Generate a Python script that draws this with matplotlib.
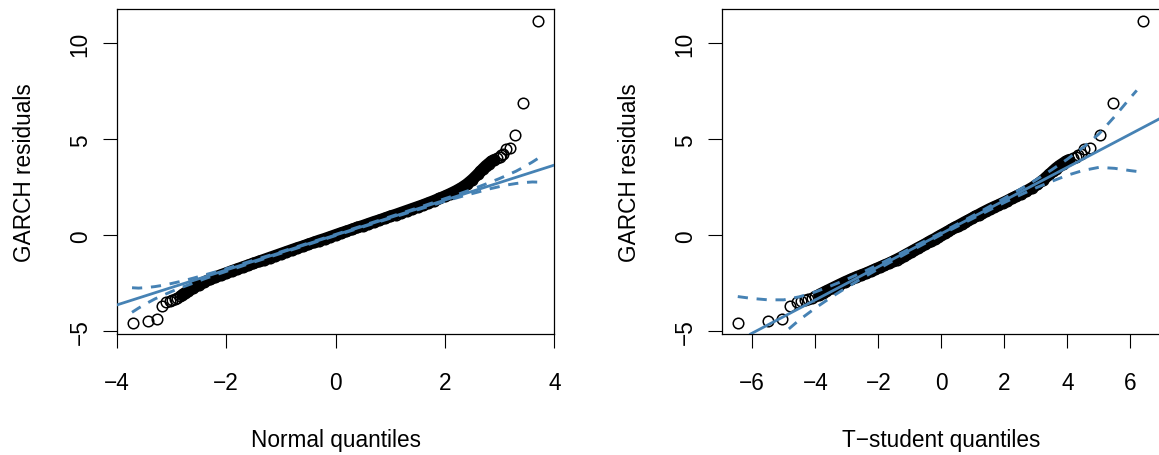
import numpy as np
import matplotlib
matplotlib.use("Agg")
import matplotlib.pyplot as plt

plt.rcParams['font.family'] = ['Liberation Sans', 'DejaVu Sans']

# sorted GARCH residuals with their normal and t-student theoretical quantiles
q_norm = [-3.71, -3.42, -3.27, -3.18, -3.09, -3.03, -2.98, -2.94, -2.90, -2.85,
          -2.80, -2.75, -2.70, -2.60, -2.50, -2.40, -2.30, -2.20, -2.10, -2.00,
          -1.90, -1.80, -1.70, -1.60, -1.50, -1.40, -1.30, -1.20, -1.10, -1.00,
          -0.90, -0.80, -0.70, -0.60, -0.50, -0.40, -0.30, -0.20, -0.10, 0.00,
          0.10, 0.20, 0.30, 0.40, 0.50, 0.60, 0.70, 0.80, 0.90, 1.00,
          1.10, 1.20, 1.30, 1.40, 1.50, 1.60, 1.70, 1.80, 1.90, 2.00,
          2.10, 2.20, 2.30, 2.40, 2.50, 2.60, 2.65, 2.70, 2.75, 2.80,
          2.85, 2.90, 2.95, 3.00, 3.03, 3.06, 3.11, 3.19, 3.28, 3.42, 3.71]
q_t = [-6.46, -5.49, -5.07, -4.80, -4.59, -4.45, -4.33, -4.22, -4.12, -4.00,
       -3.88, -3.77, -3.66, -3.45, -3.25, -3.06, -2.88, -2.71, -2.54, -2.38,
       -2.23, -2.09, -1.95, -1.81, -1.67, -1.54, -1.42, -1.30, -1.19, -1.08,
       -0.97, -0.86, -0.75, -0.64, -0.53, -0.42, -0.32, -0.21, -0.11, 0.00,
       0.11, 0.21, 0.32, 0.42, 0.53, 0.64, 0.75, 0.86, 0.97, 1.08,
       1.19, 1.30, 1.42, 1.54, 1.67, 1.81, 1.95, 2.09, 2.23, 2.38,
       2.54, 2.70, 2.87, 3.05, 3.24, 3.43, 3.53, 3.63, 3.74, 3.85,
       3.95, 4.06, 4.17, 4.28, 4.35, 4.42, 4.53, 4.73, 5.02, 5.44, 6.40]
resid = [-4.56, -4.44, -4.36, -3.69, -3.49, -3.42, -3.37, -3.32, -3.26, -3.18,
         -3.09, -3.00, -2.91, -2.74, -2.58, -2.43, -2.30, -2.18, -2.07, -1.97,
         -1.86, -1.76, -1.66, -1.56, -1.46, -1.36, -1.26, -1.16, -1.06, -0.96,
         -0.86, -0.76, -0.66, -0.57, -0.47, -0.37, -0.27, -0.18, -0.08, 0.02,
         0.12, 0.21, 0.31, 0.41, 0.50, 0.60, 0.70, 0.79, 0.89, 0.99,
         1.08, 1.18, 1.28, 1.38, 1.48, 1.58, 1.69, 1.80, 1.92, 2.04,
         2.17, 2.31, 2.47, 2.66, 2.90, 3.18, 3.33, 3.48, 3.62, 3.74,
         3.85, 3.94, 4.02, 4.10, 4.16, 4.22, 4.50, 4.57, 5.23, 6.88, 11.18]

# reference lines (intercept, slope)
norm_line = (0.015, 0.911)
t_line = (0.09, 0.864)

# confidence envelopes
env_norm_x = [-3.72, -3.6, -3.45, -3.3, -3.15, -3.0, -2.8, -2.6, -2.4, -2.2, -2.0,
              -1.5, -1.0, 0.0, 1.0, 1.5, 2.0, 2.2, 2.4, 2.6, 2.8, 3.0, 3.15,
              3.3, 3.45, 3.6, 3.72]
env_norm_up = [-2.73, -2.75, -2.72, -2.67, -2.60, -2.51, -2.38, -2.23, -2.07, -1.91, -1.74,
               -1.30, -0.86, 0.045, 0.97, 1.43, 1.91, 2.10, 2.30, 2.51, 2.73, 2.96, 3.15,
               3.34, 3.57, 3.82, 4.04]
env_norm_lo = [-4.01, -3.79, -3.54, -3.31, -3.12, -2.93, -2.70, -2.49, -2.27, -2.07, -1.88,
               -1.40, -0.94, -0.015, 0.89, 1.33, 1.77, 1.94, 2.10, 2.25, 2.41, 2.54, 2.63,
               2.70, 2.75, 2.78, 2.77]

env_t_x = [-6.46, -6.0, -5.5, -5.0, -4.5, -4.0, -3.5, -3.0, -2.5, -2.0, -1.0, 0.0,
           1.0, 2.0, 2.5, 3.0, 3.5, 4.0, 4.5, 5.0, 5.5, 6.0, 6.2]
env_t_up = [-3.19, -3.29, -3.36, -3.36, -3.20, -2.95, -2.63, -2.29, -1.92, -1.53, -0.70, 0.14,
            1.02, 1.93, 2.40, 2.89, 3.41, 3.97, 4.58, 5.28, 6.19, 7.17, 7.55]
env_t_lo = [-7.79, -6.89, -5.96, -5.10, -4.40, -3.79, -3.23, -2.71, -2.22, -1.75, -0.84, 0.04,
            0.88, 1.71, 2.10, 2.47, 2.81, 3.13, 3.38, 3.54, 3.49, 3.37, 3.33]

blue = '#4682B4'
W, H = 1159, 456
fig = plt.figure(figsize=(W / 100, H / 100), dpi=100)

ax1 = fig.add_axes([116.7 / W, (H - 335) / H, 437.6 / W, 325 / H])
ax2 = fig.add_axes([721.7 / W, (H - 335) / H, 439.3 / W, 325 / H])

qn = np.array(q_norm)
dense = (qn >= -2.8) & (qn <= 2.9)

panels = [
    (ax1, q_norm, norm_line, env_norm_x, env_norm_up, env_norm_lo,
     'Normal quantiles', (-4, 4), [-4, -2, 0, 2, 4]),
    (ax2, q_t, t_line, env_t_x, env_t_up, env_t_lo,
     'T\u2212student quantiles', (-6.97, 6.97), [-6, -4, -2, 0, 2, 4, 6]),
]

for ax, qx, (a, b), ex, eu, el, xlab, xl, xt in panels:
    qx = np.array(qx)
    ry = np.array(resid)
    # overplotted core of the sample (thousands of points in the original)
    ax.plot(qx[dense], ry[dense], color='black', lw=8.4, solid_capstyle='round',
            solid_joinstyle='round', zorder=2)
    ax.plot(qx, ry, 'o', ms=7.6, mfc='none', mec='black', mew=1.1, zorder=3)
    ax.axline((0, a), slope=b, color=blue, lw=2.0, zorder=4)
    ax.plot(ex, eu, color=blue, lw=2.1, ls=(0, (3.5, 3)), zorder=4)
    ax.plot(ex, el, color=blue, lw=2.1, ls=(0, (3.5, 3)), zorder=4)

    ax.set_xlim(*xl)
    ax.set_ylim(-5.14, 11.79)
    ax.set_xticks(xt)
    ax.set_yticks([-5, 0, 5, 10])
    ax.tick_params(axis='both', direction='out', length=10, width=0.8,
                   labelsize=16.3, color='black')
    ax.tick_params(axis='x', pad=17)
    ax.tick_params(axis='y', pad=8)
    for lbl in ax.get_yticklabels():
        lbl.set_rotation(90)
        lbl.set_va('center')
    for s in ax.spines.values():
        s.set_linewidth(0.9)

    ax.set_xlabel(xlab, fontsize=16.3, va='center')
    ax.xaxis.set_label_coords(0.5, -0.326)
    ax.set_ylabel('GARCH residuals', fontsize=16.3, va='center')
    ax.yaxis.set_label_coords(-0.21, 0.5)

fig.savefig('out.png', dpi=100)
